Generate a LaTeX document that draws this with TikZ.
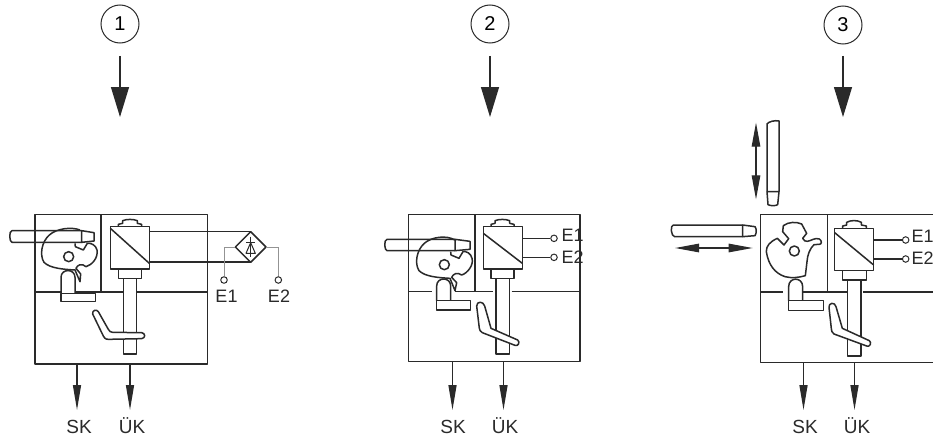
\documentclass[tikz,border=0pt]{standalone}
\usepackage{fontspec}
\setmainfont{Liberation Sans}
\usetikzlibrary{arrows.meta}
\definecolor{ink}{HTML}{2A2A2A}
\tikzset{
  ln/.style={draw=ink,line width=1.5pt,line join=round},
  thin ln/.style={draw=ink,line width=1pt,line join=round},
  gray ln/.style={draw=gray!85,line width=.9pt},
  part/.style={ln,fill=white},
  num/.style={draw=ink,line width=1pt,circle,minimum size=38pt,inner sep=0pt,font=\fontsize{20}{20}\selectfont},
  out lbl/.style={text=ink,inner sep=0pt,font=\fontsize{19}{19}\selectfont},
  e lbl/.style={text=ink,inner sep=0pt,font=\fontsize{18}{18}\selectfont},
  terminal/.style={circle,draw=ink,line width=1pt,fill=white,minimum size=6.5pt,inner sep=0pt},
  big arrow/.style={draw=ink,line width=1.2pt,-{Triangle[length=30pt,width=18pt]}},
  out arrow/.style={draw=ink,line width=1.4pt,-{Triangle[length=25pt,width=8pt]}},
  move arrow/.style={draw=ink,line width=1.2pt,{Triangle[length=24pt,width=8.5pt]}-{Triangle[length=24pt,width=8.5pt]}},
  zoomed/.style={x=.33333pt,y=-.33333pt}
}
\begin{document}
\begin{tikzpicture}[x=1pt,y=-1pt]
\useasboundingbox (0,0) rectangle (933,444);
\clip (0,0) rectangle (933,444);
\fill[white] (0,0) rectangle (933,444);

% numbered markers and arrows
\node[num] (n1) at (120,24) {1};
\node[num] (n2) at (490,24) {2};
\node[num] (n3) at (843,25) {3};
\coordinate (a1s) at (120,56); \coordinate (a1e) at (120,117);
\coordinate (a2s) at (490,56); \coordinate (a2e) at (490,117);
\coordinate (a3s) at (843,56); \coordinate (a3e) at (843,117);
\draw[big arrow] (a1s) -- (a1e);
\draw[big arrow] (a2s) -- (a2e);
\draw[big arrow] (a3s) -- (a3e);

% ===== panel 1 =====
\begin{scope}[shift={(0,200)},zoomed]
\draw[ln] (105,44) rectangle (622,492);
\draw[ln] (303,44) -- (303,276);
\draw[ln] (105,276) -- (622,276);
% solenoid
\draw[part] (355,80) -- (355,73) -- (368,70) -- (368,62) .. controls (380,57) and (400,57) .. (412,62) -- (412,70) -- (425,73) -- (425,80);
\draw[part] (356,207) rectangle (425,236);
\draw[part] (371,236) rectangle (410,462);
\draw[part] (331,80) rectangle (448,207);
\draw[ln] (331,85) -- (448,190);
% handle
\draw[part] (278,342) .. controls (276,330) and (290,327) .. (295,335) -- (325,388) .. controls (328,394) and (332,397) .. (338,397) -- (425,398) .. controls (437,400) and (437,414) .. (425,416) -- (325,418) .. controls (315,418) and (312,412) .. (310,408) -- cycle;
% lever
\draw[part] (183,280) -- (183,232) .. controls (183,205) and (225,205) .. (225,232) -- (225,280);
\draw[part] (183,280) rectangle (287,305);
% cam
\draw[ln] (240,90) .. controls (215,80) and (170,85) .. (148,105) .. controls (125,125) and (118,165) .. (132,187) .. controls (150,205) and (190,208) .. (225,210) -- (240,245) -- (242,222) -- (228,205) .. controls (232,195) and (245,188) .. (258,200) .. controls (275,195) and (295,175) .. (291,150) .. controls (288,135) and (272,128) .. (262,130) -- (250,150) -- (226,140) -- (225,130);
\draw[ln] (206,170) circle[radius=15];
% bar
\draw[ln] (245,92) -- (36,92) .. controls (26,92) and (28,127) .. (36,127) -- (245,127);
\draw[ln] (245,92) -- (282,98) -- (282,123) -- (245,127) -- cycle;
% rectifier
\coordinate (w1a) at (448,95); \coordinate (w1b) at (750,95);
\coordinate (w2a) at (448,186); \coordinate (w2b) at (750,186);
\draw[ln] (w1a) -- (w1b);
\draw[ln] (w2a) -- (w2b);
\draw[part] (752,95) -- (798,141) -- (752,187) -- (706,141) -- cycle;
\draw[thin ln] (752,110) -- (752,172) (738,128) -- (766,128);
\draw[thin ln] (738,160) -- (766,160) -- (752,128) -- cycle;
\node[terminal] (t11) at (672,240) {};
\node[terminal] (t12) at (835,240) {};
\coordinate (d1) at (706,141); \coordinate (d2) at (798,141);
\draw[gray ln] (d1) -| (t11);
\draw[gray ln] (d2) -| (t12);
\end{scope}
\node[e lbl] (e11) at (226.5,296) {E1};
\node[e lbl] (e12) at (279,296) {E2};
\coordinate (b1) at (77,364); \coordinate (b1e) at (77,410);
\coordinate (b2) at (130,364); \coordinate (b2e) at (130,410);
\draw[out arrow] (b1) -- (b1e);
\draw[out arrow] (b2) -- (b2e);
\node[out lbl,anchor=base] (sk1) at (79,433.5) {SK};
\node[out lbl,anchor=base] (uk1) at (132,433.5) {ÜK};

% ===== panel 2 =====
\begin{scope}[shift={(375,200)},zoomed]
\draw[ln] (100,44) rectangle (615,485);
\draw[ln] (300,44) -- (300,275);
\draw[ln] (100,275) -- (170,275) (240,275) -- (300,275) -- (355,275) (410,275) -- (615,275);
\draw[part] (348,80) -- (348,73) -- (360,70) -- (360,62) .. controls (372,57) and (392,57) .. (404,62) -- (404,70) -- (417,73) -- (417,80);
\draw[part] (348,207) rectangle (417,236);
\draw[part] (363,236) rectangle (403,462);
\draw[part] (325,80) rectangle (442,207);
\draw[ln] (325,100) -- (442,190);
\draw[part] (305,318) .. controls (305,303) and (325,303) .. (329,318) -- (348,385) -- (428,420) .. controls (436,426) and (430,440) .. (420,436) -- (322,398) .. controls (316,395) and (314,390) .. (313,385) -- cycle;
\draw[part] (185,302) -- (185,258) .. controls (185,230) and (227,230) .. (227,258) -- (227,302);
\draw[part] (185,302) rectangle (287,330);
\draw[ln] (240,120) .. controls (215,105) and (170,110) .. (148,130) .. controls (125,150) and (118,190) .. (132,212) .. controls (150,230) and (190,233) .. (225,235) -- (240,272) -- (245,248) -- (230,232) .. controls (234,222) and (247,215) .. (260,225) .. controls (277,220) and (297,195) .. (291,175) .. controls (288,160) and (274,153) .. (264,155) -- (252,175) -- (228,165) -- (227,155);
\draw[ln] (208,194) circle[radius=15];
\draw[ln] (240,118) -- (36,118) .. controls (26,118) and (28,152) .. (36,152) -- (240,152);
\draw[ln] (240,118) -- (285,124) -- (285,148) -- (240,152) -- cycle;
\node[terminal] (t21) at (537,115) {};
\node[terminal] (t22) at (537,172) {};
\coordinate (w3) at (442,115); \coordinate (w4) at (442,172);
\draw[ln] (w3) -- (t21);
\draw[ln] (w4) -- (t22);
\end{scope}
\node[e lbl,anchor=west] (e21) at (561.5,235.5) {E1};
\node[e lbl,anchor=west] (e22) at (561.5,257.5) {E2};
\coordinate (b3) at (452.5,362); \coordinate (b3e) at (452.5,410);
\coordinate (b4) at (503.5,362); \coordinate (b4e) at (503.5,410);
\draw[out arrow] (b3) -- (b3e);
\draw[out arrow] (b4) -- (b4e);
\node[out lbl,anchor=base] (sk2) at (453,433.5) {SK};
\node[out lbl,anchor=base] (uk2) at (505,433.5) {ÜK};

% ===== panel 3 =====
\begin{scope}[shift={(660,110)},zoomed]
\draw[ln] (302,314) rectangle (830,758);
\draw[ln] (502,314) -- (502,546);
\draw[ln] (302,546) -- (370,546) (430,546) -- (560,546) (610,546) -- (830,546);
\draw[part] (548,355) -- (548,348) -- (560,345) -- (560,337) .. controls (572,330) and (592,330) .. (604,337) -- (604,345) -- (619,348) -- (619,355);
\draw[part] (548,482) rectangle (619,510);
\draw[part] (563,510) rectangle (603,738);
\draw[part] (524,355) rectangle (641,482);
\draw[ln] (524,368) -- (641,465);
\draw[part] (507,592) .. controls (505,578) and (525,575) .. (528,590) -- (547,655) -- (628,692) .. controls (636,698) and (630,712) .. (620,708) -- (522,672) .. controls (516,668) and (514,662) .. (514,656) -- cycle;
\draw[part] (386,572) -- (386,530) .. controls (386,500) and (428,500) .. (428,530) -- (428,572);
\draw[part] (386,572) rectangle (490,602);
\draw[part] (370,347) .. controls (385,335) and (410,335) .. (425,342) -- (440,370) -- (428,385) .. controls (432,392) and (436,395) .. (442,394) .. controls (455,392) and (465,382) .. (478,387) .. controls (486,392) and (486,403) .. (478,403) -- (462,404) .. controls (450,415) and (442,435) .. (441,455) -- (436,497) .. controls (415,503) and (395,505) .. (375,500) .. controls (345,490) and (325,465) .. (319,425) .. controls (318,408) and (330,395) .. (352,385) -- (372,405) -- (386,386) -- (368,365) -- cycle;
\draw[ln] (403,423) circle[radius=15];
% vertical plunger
\draw[ln] (321,245) -- (321,42) .. controls (325,35) and (345,30) .. (357,33) -- (357,245) -- cycle;
\draw[ln] (321,245) -- (324,284) .. controls (330,288) and (348,288) .. (353,284) -- (357,245);
% horizontal plunger
\draw[ln] (248,345) -- (40,345) .. controls (30,345) and (33,380) .. (44,380) -- (248,380);
\draw[ln] (248,345) -- (248,380) -- (285,377) .. controls (290,370) and (290,356) .. (285,350) -- cycle;
% motion arrows
\coordinate (m1) at (288,38); \coordinate (m2) at (288,268);
\coordinate (m3) at (45,414); \coordinate (m4) at (278,414);
\draw[move arrow] (m1) -- (m2);
\draw[move arrow] (m3) -- (m4);
\node[terminal] (t31) at (737,390) {};
\node[terminal] (t32) at (737,447) {};
\coordinate (w5) at (641,390); \coordinate (w6) at (641,447);
\draw[ln] (w5) -- (t31);
\draw[ln] (w6) -- (t32);
\end{scope}
\node[e lbl,anchor=west] (e31) at (911.5,236) {E1};
\node[e lbl,anchor=west] (e32) at (911.5,258.5) {E2};
\coordinate (b5) at (803.5,362); \coordinate (b5e) at (803.5,410);
\coordinate (b6) at (854.5,362); \coordinate (b6e) at (854.5,410);
\draw[out arrow] (b5) -- (b5e);
\draw[out arrow] (b6) -- (b6e);
\node[out lbl,anchor=base] (sk3) at (805,433.5) {SK};
\node[out lbl,anchor=base] (uk3) at (857,433.5) {ÜK};
\end{tikzpicture}
\end{document}
